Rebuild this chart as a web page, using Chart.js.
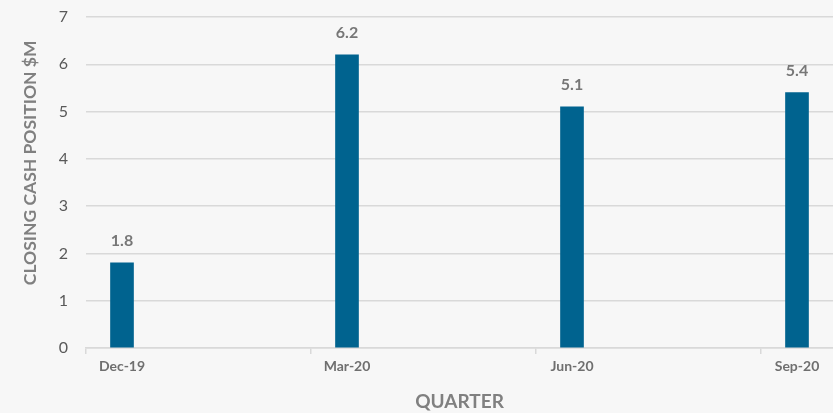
<!DOCTYPE html>
<html>
<head>
<meta charset="utf-8">
<script src="https://cdn.jsdelivr.net/npm/chart.js@4/dist/chart.umd.min.js"></script>
<style>
  html, body { margin: 0; padding: 0; background: #f7f7f7; overflow: hidden; }
  #wrap { width: 833px; height: 413px; position: relative; }
</style>
</head>
<body>
<div id="wrap"><canvas id="cash"></canvas></div>
<script>
const quarters = ['Dec-19', 'Mar-20', 'Jun-20', 'Sep-20'];
const closingCash = [1.8, 6.2, 5.1, 5.4];
const yTicks = [0, 1, 2, 3, 4, 5, 6, 7];

const barColor = '#00638f';
const gridColor = '#d9d9d9';
const font = 'Lato, "Open Sans", sans-serif';

// values above the bars
const valueLabels = {
  id: 'valueLabels',
  afterDatasetsDraw(chart) {
    const ctx = chart.ctx;
    const meta = chart.getDatasetMeta(0);
    ctx.save();
    ctx.font = 'bold 16px ' + font;
    ctx.fillStyle = '#777777';
    ctx.textAlign = 'center';
    ctx.textBaseline = 'bottom';
    meta.data.forEach((bar, i) => {
      ctx.fillText(closingCash[i].toFixed(1), bar.x, bar.y - 14);
    });
    ctx.restore();
  }
};

new Chart(document.getElementById('cash'), {
  type: 'bar',
  data: {
    datasets: [{
      label: 'Closing cash position',
      data: closingCash.map((v, i) => ({ x: i, y: v })),
      backgroundColor: barColor,
      barThickness: 23,
    }]
  },
  options: {
    responsive: true,
    maintainAspectRatio: false,
    animation: false,
    layout: { padding: { top: 17, right: 0, bottom: 0, left: 0 } },
    plugins: {
      legend: { display: false },
      tooltip: { enabled: false },
    },
    scales: {
      x: {
        type: 'linear',
        offset: false,
        min: -0.16,
        max: 3.16,
        afterBuildTicks: (scale) => {
          scale.ticks = quarters.map((q, i) => ({ value: i - 0.16 }));
        },
        afterFit: (scale) => {
          scale.height = 65;
          scale.paddingLeft = 0;
          scale.paddingRight = 0;
        },
        grid: {
          offset: false,
          drawOnChartArea: false,
          drawTicks: true,
          tickLength: 6,
          color: gridColor,
          lineWidth: 1.5,
        },
        border: { display: true, color: gridColor, width: 1.5 },
        ticks: {
          labelOffset: 36,
          padding: 4,
          maxRotation: 0,
          autoSkip: false,
          color: '#6f6f6f',
          font: { family: font, size: 14, weight: 'bold' },
          callback: (v, i) => quarters[i],
        },
        title: {
          display: true,
          text: 'QUARTER',
          color: '#808080',
          font: { family: font, size: 19, weight: 'bold' },
          padding: { top: 8, bottom: 0 },
        },
      },
      y: {
        min: 0,
        max: 7,
        afterBuildTicks: (scale) => {
          scale.ticks = yTicks.map(v => ({ value: v }));
        },
        afterFit: (scale) => {
          scale.width = 86;
          scale.paddingTop = 0;
          scale.paddingBottom = 0;
        },
        grid: { color: gridColor, lineWidth: 1.5, drawTicks: false },
        border: { display: false },
        ticks: {
          padding: 18,
          color: '#595959',
          font: { family: font, size: 16 },
        },
        title: {
          display: true,
          text: '\u2003\u2003\u2003CLOSING CASH POSITION $M',
          color: '#808080',
          font: { family: font, size: 17.5, weight: 'bold' },
          padding: { top: 20, bottom: 0 },
        },
      },
    },
  },
  plugins: [valueLabels],
});
</script>
</body>
</html>
